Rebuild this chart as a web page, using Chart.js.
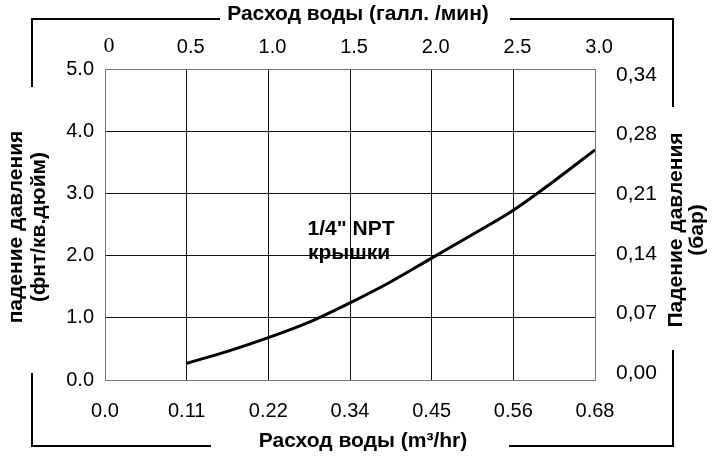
<!DOCTYPE html>
<html>
<head>
<meta charset="utf-8">
<script src="https://cdn.jsdelivr.net/npm/chart.js@4"></script>
<style>
  html, body { margin: 0; padding: 0; background: #fff; }
  #wrap { width: 716px; height: 458px; }
</style>
</head>
<body>
<div id="wrap"><canvas id="chart"></canvas></div>
<script>
// flow in gpm, pressure drop in psi
const flowGpm = [0.5, 0.75, 1.0, 1.25, 1.5, 1.75, 2.0, 2.25, 2.5, 2.75, 3.0];
const dropPsi = [0.27, 0.46, 0.68, 0.93, 1.24, 1.58, 1.96, 2.34, 2.73, 3.2, 3.7];

const gpmLabels = ["0", "0.5", "1.0", "1.5", "2.0", "2.5", "3.0"];
const m3hLabels = ["0.0", "0.11", "0.22", "0.34", "0.45", "0.56", "0.68"];
const psiLabels = ["0.0", "1.0", "2.0", "3.0", "4.0", "5.0"];
const barLabels = ["0,00", "0,07", "0,14", "0,21", "0,28", "0,34"];

const FONT = "'Liberation Sans', Arial, sans-serif";
const tickFont = { family: FONT, size: 20 };

function edgeGrid(last) {
    return ctx => (ctx.index === 0 || ctx.index === last) ? "#777" : "#111";
}

// frame brackets, axis titles and the curve note
const framePlugin = {
    id: "frame",
    afterDraw(chart) {
        const c = chart.ctx;
        c.save();
        c.strokeStyle = "#000";
        c.lineWidth = 2;
        c.beginPath();
        c.moveTo(32, 87); c.lineTo(32, 19); c.lineTo(220, 19);
        c.moveTo(510, 19); c.lineTo(673, 19); c.lineTo(673, 107);
        c.moveTo(32, 373); c.lineTo(32, 446); c.lineTo(211, 446);
        c.moveTo(509, 446); c.lineTo(673, 446); c.lineTo(673, 350);
        c.stroke();

        c.fillStyle = "#000";
        c.font = "bold 21px " + FONT;
        c.textAlign = "center";
        c.textBaseline = "middle";
        c.fillText("Расход воды (галл. /мин)", 358, 14);
        c.fillText("Расход воды (m³/hr)", 363, 441);
        c.fillText("1/4\" NPT", 351, 229);
        c.fillText("крышки", 349, 253);

        const vert = (txt, x, y) => {
            c.save();
            c.translate(x, y);
            c.rotate(-Math.PI / 2);
            c.fillText(txt, 0, 0);
            c.restore();
        };
        vert("падение давления", 16, 227);
        vert("(фнт/кв.дюйм)", 39, 227);
        vert("Падение давления", 676, 230);
        vert("(бар)", 697, 230);
        c.restore();
    }
};

new Chart(document.getElementById("chart"), {
    type: "line",
    data: {
        datasets: [{
            data: flowGpm.map((x, i) => ({ x: x, y: dropPsi[i] })),
            borderColor: "#000",
            borderWidth: 3,
            pointRadius: 0,
            cubicInterpolationMode: "monotone",
            xAxisID: "x",
            yAxisID: "y"
        }]
    },
    options: {
        responsive: true,
        maintainAspectRatio: false,
        animation: false,
        layout: { padding: 0 },
        plugins: { legend: { display: false }, tooltip: { enabled: false } },
        scales: {
            x: {
                type: "linear",
                position: "bottom",
                min: 0,
                max: 3,
                ticks: {
                    stepSize: 0.5,
                    color: "#000",
                    font: tickFont,
                    padding: 19,
                    maxRotation: 0,
                    callback: (v, i) => m3hLabels[i]
                },
                grid: { color: edgeGrid(6), drawTicks: false },
                border: { color: "#777" },
                afterFit: s => { s.height = 78; }
            },
            x2: {
                type: "linear",
                position: "top",
                min: -0.025,
                max: 2.975,
                afterBuildTicks: s => { s.ticks = gpmLabels.map((_, i) => ({ value: i * 0.5 })); },
                ticks: {
                    color: "#000",
                    padding: 2,
                    maxRotation: 0,
                    autoSkip: false,
                    font: ctx => ctx.index === 0
                        ? { family: "'Liberation Serif', serif", size: 22 }
                        : { family: FONT, size: 20 },
                    callback: (v, i) => gpmLabels[i]
                },
                grid: { display: false },
                border: { display: false },
                afterFit: s => { s.height = 69; }
            },
            y: {
                position: "left",
                min: 0,
                max: 5,
                ticks: {
                    stepSize: 1,
                    color: "#000",
                    font: tickFont,
                    padding: 11,
                    callback: (v, i) => psiLabels[i]
                },
                grid: { color: edgeGrid(5), drawTicks: false },
                border: { color: "#777" },
                afterFit: s => { s.width = 105; }
            },
            y2: {
                position: "right",
                min: -0.117,
                max: 5.1,
                afterBuildTicks: s => { s.ticks = barLabels.map((_, i) => ({ value: i })); },
                ticks: {
                    color: "#000",
                    font: { family: FONT, size: 21 },
                    padding: 13,
                    autoSkip: false,
                    callback: (v, i) => barLabels[i]
                },
                grid: { display: false },
                border: { display: false },
                afterFit: s => { s.width = 121; }
            }
        }
    },
    plugins: [framePlugin]
});
</script>
</body>
</html>
